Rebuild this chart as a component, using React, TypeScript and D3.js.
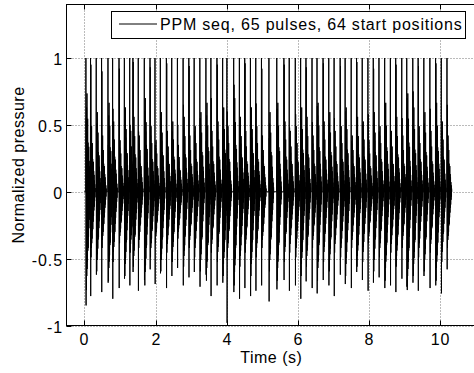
import React from "react";
import * as d3 from "d3";

// Pulse onset times (s)
const pulseTimes = [
  0.04, 0.17, 0.33, 0.48, 0.66, 0.79, 0.97, 1.12, 1.27, 1.36,
  1.51, 1.68, 1.84, 1.98, 2.13, 2.30, 2.45, 2.61, 2.77, 2.93,
  3.08, 3.24, 3.41, 3.55, 3.72, 3.88, 4.00, 4.19, 4.35, 4.50,
  4.66, 4.81, 4.97, 5.18, 5.40, 5.60, 5.75, 5.92, 6.07, 6.22,
  6.39, 6.53, 6.70, 6.86, 7.01, 7.18, 7.32, 7.49, 7.64, 7.80,
  7.96, 8.11, 8.27, 8.43, 8.59, 8.74, 8.91, 9.05, 9.22, 9.37,
  9.53, 9.70, 9.86, 10.02, 10.18,
];
// Negative peak right after each spike
const negPeaks = [
  -0.85, -0.78, -0.62, -0.75, -0.68, -0.80, -0.72, -0.65, -0.70, -0.60,
  -0.74, -0.66, -0.58, -0.69, -0.61, -0.72, -0.63, -0.57, -0.70, -0.64,
  -0.60, -0.71, -0.62, -0.78, -0.70, -0.68, -0.98, -0.75, -0.80, -0.72,
  -0.78, -0.74, -0.70, -0.82, -0.73, -0.66, -0.74, -0.70, -0.80, -0.67,
  -0.72, -0.76, -0.66, -0.70, -0.78, -0.62, -0.69, -0.72, -0.60, -0.66,
  -0.74, -0.68, -0.64, -0.72, -0.70, -0.75, -0.65, -0.71, -0.68, -0.74,
  -0.63, -0.72, -0.70, -0.76, -0.58,
];
// Second positive peak of each pulse
const secondPeaks = [
  0.55, 0.95, 0.40, 0.90, 0.35, 0.62, 0.92, 0.30, 0.50, 0.97,
  0.45, 0.60, 0.93, 0.35, 0.55, 0.96, 0.40, 0.50, 0.65, 0.94,
  0.45, 0.55, 0.38, 0.70, 0.95, 0.52, 0.60, 0.80, 0.45, 0.96,
  0.50, 0.66, 0.92, 0.40, 0.62, 0.95, 0.48, 0.58, 0.35, 0.93,
  0.52, 0.64, 0.96, 0.42, 0.55, 0.94, 0.60, 0.38, 0.97, 0.50,
  0.58, 0.92, 0.45, 0.66, 0.40, 0.95, 0.55, 0.70, 0.75, 0.94,
  0.50, 0.62, 0.96, 0.45, 0.65,
];
// Ringing strength of each pulse
const ringScale = [
  1.05, 0.70, 0.85, 0.60, 0.95, 0.75, 0.55, 0.90, 0.65, 0.80,
  0.60, 1.00, 0.70, 0.55, 0.85, 0.65, 0.75, 0.50, 0.80, 0.60,
  0.70, 0.85, 0.95, 0.65, 0.75, 0.90, 0.70, 1.00, 0.80, 0.65,
  0.90, 0.70, 0.60, 0.85, 0.95, 0.75, 0.65, 0.70, 0.90, 0.80,
  0.60, 0.95, 0.75, 0.85, 0.65, 0.70, 0.90, 0.60, 0.80, 0.75,
  0.55, 0.85, 0.70, 0.95, 0.65, 0.80, 0.60, 1.05, 0.90, 0.70,
  0.85, 0.65, 0.95, 0.75, 0.60,
];
// Shape of the ringing after the second peak (normalized)
const ringTemplate = [
  -0.7, 0.6, -0.6, 0.7, -0.55, 0.45, -0.5, 0.52, -0.42,
  0.35, -0.4, 0.3, -0.32, 0.32, -0.26, 0.22, -0.2, 0.18, -0.16,
  0.12, -0.1, 0.08, -0.06, 0.04, 0,
];
const sampleStep = 0.005;
const signalStart = 0;
const signalEnd = 10.3;

const xTicks = [0, 2, 4, 6, 8, 10];
const xTickLabels = ["0", "2", "4", "6", "8", "10"];
const yTicks = [-1, -0.5, 0, 0.5, 1];
const yTickLabels = ["-1", "-0.5", "0", "0.5", "1"];
const legendLabel = "PPM seq, 65 pulses, 64 start positions";

export default function App() {
  const W = 474, H = 373;
  const left = 66.5, right = 476, top = 4.5, bottom = 325.5;
  const x = d3.scaleLinear().domain([-0.5, 11]).range([left, right]);
  const y = d3.scaleLinear().domain([-1, 1.4]).range([bottom, top]);

  const pts: [number, number][] = [[signalStart, 0]];
  pulseTimes.forEach((T, i) => {
    pts.push([T, 0]);
    pts.push([T + sampleStep, 1]);
    pts.push([T + 2 * sampleStep, negPeaks[i]]);
    pts.push([T + 3 * sampleStep, secondPeaks[i]]);
    ringTemplate.forEach((v, k) => {
      pts.push([T + (4 + k) * sampleStep, Math.min(0.98, v * ringScale[i])]);
    });
  });
  pts.push([signalEnd, 0]);

  const line = d3
    .line<[number, number]>()
    .x((d) => x(d[0]))
    .y((d) => y(d[1]));

  const font = "'Liberation Sans', Arial, Helvetica, sans-serif";
  const gridColor = "#777";

  return (
    <svg
      width={W}
      height={H}
      style={{ position: "absolute", left: 0, top: 0, background: "#fff" }}
      fontFamily={font}
    >
      <defs>
        <clipPath id="plotclip">
          <rect x={left} y={top} width={right - left} height={bottom - top} />
        </clipPath>
      </defs>
      <rect x={0} y={0} width={W} height={H} fill="#fff" />
      {xTicks.map((t) => (
        <line
          key={"gx" + t}
          x1={Math.round(x(t)) + 0.5}
          x2={Math.round(x(t)) + 0.5}
          y1={top}
          y2={bottom}
          stroke={gridColor}
          strokeWidth={1}
          strokeDasharray="1,2"
        />
      ))}
      {yTicks.map((t) => (
        <line
          key={"gy" + t}
          x1={left}
          x2={right}
          y1={Math.round(y(t)) + 0.5}
          y2={Math.round(y(t)) + 0.5}
          stroke={gridColor}
          strokeWidth={1}
          strokeDasharray="1,2"
        />
      ))}
      <g clipPath="url(#plotclip)">
        <path d={line(pts) || ""} fill="none" stroke="#000" strokeWidth={1} />
      </g>
      <rect
        x={left}
        y={top}
        width={right - left}
        height={bottom - top}
        fill="none"
        stroke="#000"
        strokeWidth={1}
      />
      {xTicks.map((t, i) => {
        const px = Math.round(x(t)) + 0.5;
        return (
          <g key={"xt" + t}>
            <line x1={px} x2={px} y1={bottom} y2={bottom - 5} stroke="#000" />
            <line x1={px} x2={px} y1={top} y2={top + 5} stroke="#000" />
            <text
              x={px}
              y={345}
              fontSize={16}
              letterSpacing={0.9}
              textAnchor="middle"
              fill="#000"
            >
              {xTickLabels[i]}
            </text>
          </g>
        );
      })}
      {yTicks.map((t, i) => {
        const py = Math.round(y(t)) + 0.5;
        return (
          <g key={"yt" + t}>
            <line x1={left} x2={left + 5} y1={py} y2={py} stroke="#000" />
            <text
              x={63}
              y={py + 6}
              fontSize={16}
              letterSpacing={0.9}
              textAnchor="end"
              fill="#000"
            >
              {yTickLabels[i]}
            </text>
          </g>
        );
      })}
      <text
        x={(left + right) / 2}
        y={363}
        fontSize={16}
        letterSpacing={0.5}
        textAnchor="middle"
        fill="#000"
      >
        Time (s)
      </text>
      <text
        transform={`translate(24, ${(top + bottom) / 2}) rotate(-90)`}
        fontSize={16}
        letterSpacing={0.5}
        textAnchor="middle"
        fill="#000"
      >
        Normalized pressure
      </text>
      <rect x={111.5} y={11.5} width={354} height={27} fill="#fff" stroke="#000" />
      <line x1={119} x2={157} y1={24} y2={24} stroke="#000" strokeWidth={1} />
      <text x={160} y={30} fontSize={16} letterSpacing={0.8} fill="#000">
        {legendLabel}
      </text>
    </svg>
  );
}
